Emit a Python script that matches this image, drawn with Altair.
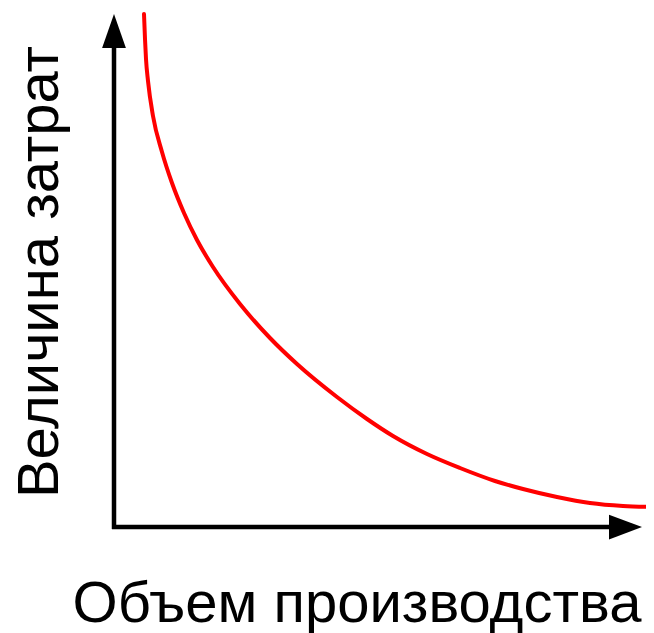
import altair as alt
import pandas as pd

# Curve points (output volume vs. cost), in chart units with origin at axes corner
curve_x = [30, 31, 32, 34, 39, 48, 58, 70, 83, 99, 126, 156, 183, 223, 253, 279, 313, 346, 381, 409, 443, 476, 509, 539]
curve_y = [513, 488, 468, 446, 411, 375, 344, 314, 287, 260, 223, 189, 163, 130, 108, 91, 73, 59, 46, 38, 30, 24, 21, 20]

x_label = "Объем производства"
y_label = "Величина затрат"

XD = [-106, 532]
YD = [-106, 519]

xs = alt.Scale(domain=XD, nice=False, zero=False)
ys = alt.Scale(domain=YD, nice=False, zero=False)

curve_df = pd.DataFrame({"x": curve_x, "y": curve_y})
axes_df = pd.DataFrame({"x": [0, -2], "x2": [0, 496], "y": [-2, 0], "y2": [479, 0]})
arrow_up_df = pd.DataFrame({"x": [0], "y": [496]})
arrow_right_df = pd.DataFrame({"x": [511.5], "y": [0]})
xlab_df = pd.DataFrame({"x": [243], "y": [-95], "t": [x_label]})
ylab_df = pd.DataFrame({"x": [-56], "y": [255], "t": [y_label]})

curve = alt.Chart(curve_df).mark_line(color="#ff0000", strokeWidth=4, interpolate="monotone", strokeCap="round").encode(
    x=alt.X("x:Q", scale=xs, axis=None),
    y=alt.Y("y:Q", scale=ys, axis=None),
)

axes = alt.Chart(axes_df).mark_rule(color="black", strokeWidth=4.5).encode(
    x=alt.X("x:Q", scale=xs, axis=None), x2="x2:Q",
    y=alt.Y("y:Q", scale=ys, axis=None), y2="y2:Q",
)

arrow_up = alt.Chart(arrow_up_df).mark_point(
    shape="M0,-1L0.7,1L-0.7,1Z", size=1156, filled=True, color="black", opacity=1, strokeWidth=0
).encode(x=alt.X("x:Q", scale=xs, axis=None), y=alt.Y("y:Q", scale=ys, axis=None))

arrow_right = alt.Chart(arrow_right_df).mark_point(
    shape="M1,0L-1,0.75L-1,-0.75Z", size=1089, filled=True, color="black", opacity=1, strokeWidth=0
).encode(x=alt.X("x:Q", scale=xs, axis=None), y=alt.Y("y:Q", scale=ys, axis=None))

xlab = alt.Chart(xlab_df).mark_text(
    font="Liberation Sans", fontSize=58, color="black", align="center", baseline="alphabetic"
).encode(x=alt.X("x:Q", scale=xs, axis=None), y=alt.Y("y:Q", scale=ys, axis=None), text="t:N")

ylab = alt.Chart(ylab_df).mark_text(
    font="Liberation Sans", fontSize=58, color="black", align="center", baseline="alphabetic", angle=270
).encode(x=alt.X("x:Q", scale=xs, axis=None), y=alt.Y("y:Q", scale=ys, axis=None), text="t:N")

chart = alt.layer(axes, arrow_up, arrow_right, curve, xlab, ylab).properties(
    width=638, height=625, padding=0, autosize=alt.AutoSizeParams(type="none")
).configure_view(stroke=None)

chart.save("out.html", embed_options={"renderer": "svg", "actions": False})
